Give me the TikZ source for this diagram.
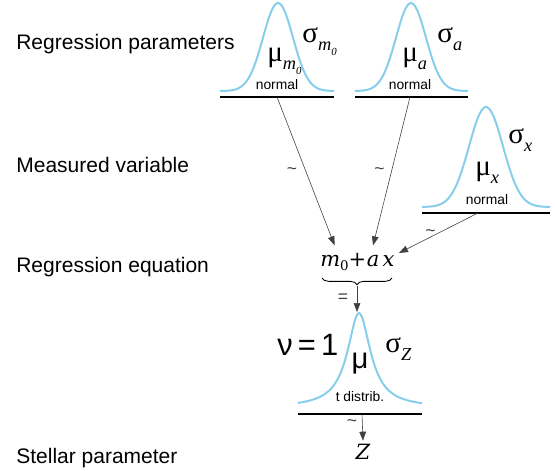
\documentclass[tikz,border=0pt]{standalone}
\usepackage{fontspec}
\setmainfont{Liberation Sans}
\newfontfamily\grkfont{Liberation Serif}
\newfontfamily\eqfont{DejaVu Serif}
\usetikzlibrary{arrows.meta,decorations.pathreplacing,positioning}
\definecolor{bellblue}{RGB}{135,206,235}
\newcommand{\gsub}[2]{{\grkfont #1}\raisebox{-0.3em}{\fontsize{11}{11}\selectfont\grkfont\itshape #2}}
\newcommand{\msub}{m\raisebox{-0.25em}{\fontsize{6.5}{6.5}\selectfont\grkfont 0}}
\newcommand{\eqsub}{m\raisebox{-0.22em}{\fontsize{8}{8}\selectfont\eqfont\upshape 0}}
\tikzset{
  lbl/.style={anchor=base west, inner sep=0pt, font=\fontsize{12.6}{14}\selectfont},
  grk/.style={anchor=base west, inner sep=0pt, font=\fontsize{17.5}{19}\selectfont},
  dname/.style={inner sep=0pt, font=\fontsize{8.3}{9}\selectfont},
  eqt/.style={inner xsep=0pt, inner ysep=5.5pt, font=\fontsize{12.6}{14}\eqfont\itshape},
  bell/.style={draw=bellblue, line width=1.2pt},
  baseln/.style={line width=0.8pt},
  dep/.style={-{Triangle[length=5.4pt,width=4pt]}, line width=0.35pt, draw=black!75},
  tl/.style={inner sep=0pt, font=\fontsize{10.5}{11}\selectfont, text=black!75}
}
\begin{document}
\begin{tikzpicture}[x=0.6pt,y=-0.6pt]
\useasboundingbox (0,0) rectangle (555,470);
% row labels
\node[lbl] (rp) at (16,49) {Regression parameters};
\node[lbl] (mv) at (16,172) {Measured variable};
\node[lbl] (re) at (16,272) {Regression equation};
\node[lbl] (sp) at (16,463) {Stellar parameter};
% prior for m0
\draw[bell] plot[domain=220:334, samples=70, smooth] (\x, {91 - 88*exp(-(\x-278)*(\x-278)/450)});
\draw[baseln] (220,97) -- (334,97);
\node[grk] (sm) at (302,42) {\gsub{σ}{\msub}};
\node[grk] (mm) at (267,61) {\gsub{μ}{\msub}};
\node[dname] (nm) at (277,85) {normal};
% prior for a
\draw[bell] plot[domain=355:468, samples=70, smooth] (\x, {91 - 88*exp(-(\x-411)*(\x-411)/450)});
\draw[baseln] (355,97) -- (468,97);
\node[grk] (sa) at (437,42) {\gsub{σ}{a}};
\node[grk] (ma) at (402,61) {\gsub{μ}{a}};
\node[dname] (na) at (410,85) {normal};
% measured x
\draw[bell] plot[domain=422:550, samples=70, smooth] (\x, {207 - 100*exp(-(\x-486)*(\x-486)/578)});
\draw[baseln] (422,213) -- (550,213);
\node[grk] (sx) at (508,143) {\gsub{σ}{x}};
\node[grk] (mx) at (475,175) {\gsub{μ}{x}};
\node[dname] (nx) at (487,200) {normal};
% regression equation
\node[eqt, anchor=base west] (em) at (320,266) {\eqsub};
\node[eqt, base right=-0.5pt of em, font=\fontsize{12.6}{14}\eqfont] (ep) {+};
\node[eqt, base right=0pt of ep] (ea) {a};
\node[eqt, base right=1.5pt of ea] (ex) {x};
\coordinate (xt) at (399,253);
\coordinate (bl) at (322,278);
\coordinate (br) at (392,278);
\coordinate (bt) at (357,286);
\draw[line width=0.5pt, decorate, decoration={brace, mirror, amplitude=4pt}] (bl) -- (br);
\node[tl] (eqs) at (343,298) {=};
% t distribution for Z
\draw[bell] plot[domain=298:422, samples=90, smooth] (\x, {407.6 - 94.6/(1+(\x-359)*(\x-359)/196)});
\draw[baseln] (298,414) -- (422,414);
\coordinate (pk) at (357,312);
\node[grk, font=\fontsize{18.5}{20}\selectfont] (nu) at (277,355) {ν\,=\,1};
\node[grk] (sz) at (385,352) {\gsub{σ}{Z}};
\node[grk, anchor=base] (mz) at (360,368) {μ};
\node[dname] (nt) at (360,397) {t distrib.};
\node[eqt, inner ysep=2pt] (z) at (363,452) {Z};
% dependencies
\coordinate (pm) at (277,97);
\coordinate (pa) at (410,97);
\coordinate (px) at (478,213);
\coordinate (pt) at (362,414);
\draw[dep] (pm) -- (em.north) node[tl, pos=.5, left=5pt] {\textasciitilde};
\draw[dep] (pa) -- (ea.north) node[tl, pos=.5, left=4pt] {\textasciitilde};
\draw[dep] (px) -- (xt) node[tl, pos=.6, above=0pt] {\textasciitilde};
\draw[dep] (bt) -- (pk);
\draw[dep] (pt) -- (z.north) node[tl, pos=.35, left=3pt] {\textasciitilde};
\end{tikzpicture}
\end{document}
